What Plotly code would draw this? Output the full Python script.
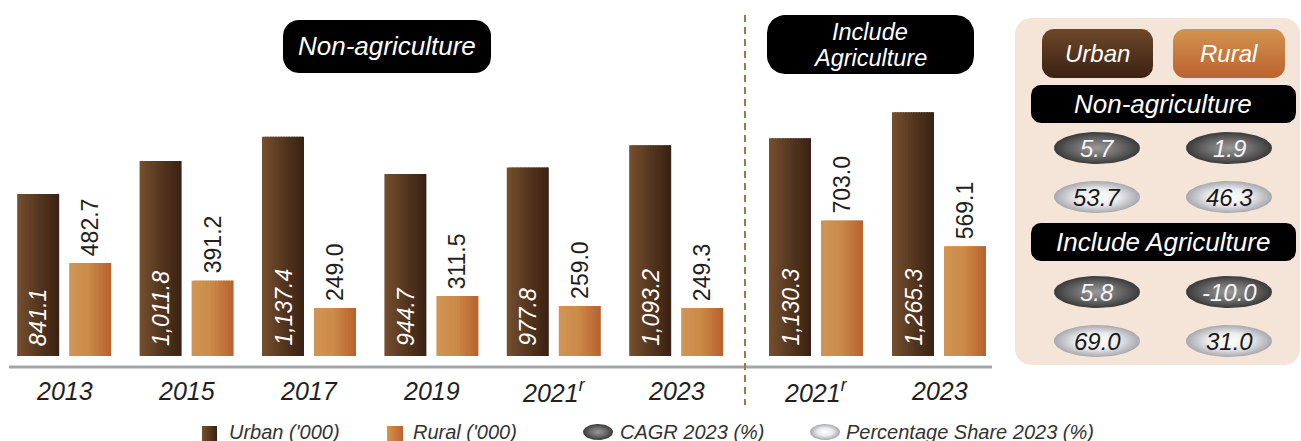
import math
import plotly.graph_objects as go

# ---------------- data ----------------
years_nonag = ["2013", "2015", "2017", "2019", "2021", "2023"]
year_labels_nonag = ["2013", "2015", "2017", "2019", "2021<sup>r</sup>", "2023"]
urban_nonag = [841.1, 1011.8, 1137.4, 944.7, 977.8, 1093.2]
rural_nonag = [482.7, 391.2, 249.0, 311.5, 259.0, 249.3]

years_agri = ["2021", "2023"]
year_labels_agri = ["2021<sup>r</sup>", "2023"]
urban_agri = [1130.3, 1265.3]
rural_agri = [703.0, 569.1]

panel_groups = ["Non-agriculture", "Include Agriculture"]
cagr_urban = [5.7, 5.8]
cagr_rural = [1.9, -10.0]
share_urban = [53.7, 69.0]
share_rural = [46.3, 31.0]

series_names = ["Urban", "Rural"]
legend_labels = ["Urban ('000)", "Rural ('000)", "CAGR 2023 (%)", "Percentage Share 2023 (%)"]
section_titles = ["Non-agriculture", "Include", "Agriculture"]

# ---------------- style ----------------
FONT = "Liberation Sans, Arial, sans-serif"
W, H = 1301, 441
BASE_Y = 356          # pixel row of value 0
PX_PER_UNIT = 0.1927  # pixels per '000
BAR_W = 42
TXT = "#231f20"

URBAN_STOPS = [(0, (118, 80, 46)), (0.55, (82, 53, 31)), (1, (58, 33, 19))]
RURAL_STOPS = [(0, (209, 149, 85)), (0.45, (203, 139, 73)), (1, (184, 97, 45))]


def interp(stops, t):
    for (t0, c0), (t1, c1) in zip(stops[:-1], stops[1:]):
        if t0 <= t <= t1:
            f = (t - t0) / (t1 - t0) if t1 > t0 else 0
            return "rgb(%d,%d,%d)" % tuple(round(a + (b - a) * f) for a, b in zip(c0, c1))
    c = stops[-1][1]
    return "rgb(%d,%d,%d)" % c


fig = go.Figure()


def add_bars(n, vals, xa, pitch, left_px, stops, K=16):
    pos = list(range(n))
    dw = BAR_W / K
    for k in range(K):
        x0 = left_px + k * dw
        w = dw * 1.7 if k < K - 1 else dw
        fig.add_trace(go.Bar(
            x=pos, y=vals, xaxis=xa, yaxis="y",
            offset=x0 / pitch, width=w / pitch,
            marker=dict(color=interp(stops, (k + 0.5) / K), line=dict(width=0)),
            hoverinfo="skip", showlegend=False))


PITCH_L, PITCH_R = 122.4, 123.0
add_bars(len(years_nonag), urban_nonag, "x", PITCH_L, -47, URBAN_STOPS)
add_bars(len(years_nonag), rural_nonag, "x", PITCH_L, 5, RURAL_STOPS)
add_bars(len(years_agri), urban_agri, "x2", PITCH_R, -47, URBAN_STOPS)
add_bars(len(years_agri), rural_agri, "x2", PITCH_R, 5, RURAL_STOPS)


# ---------------- decoration helpers (pixel axis x3/y3) ----------------
def rrect_pts(x0, y0, x1, y1, r, n=10):
    xs, ys = [], []
    corners = [(x1 - r, y0 + r, -90, 0), (x1 - r, y1 - r, 0, 90),
               (x0 + r, y1 - r, 90, 180), (x0 + r, y0 + r, 180, 270)]
    for cx, cy, a0, a1 in corners:
        for i in range(n + 1):
            a = math.radians(a0 + (a1 - a0) * i / n)
            xs.append(cx + r * math.cos(a))
            ys.append(cy + r * math.sin(a))
    xs.append(xs[0]); ys.append(ys[0])
    return xs, ys


def ellipse_pts(cx, cy, rx, ry, n=72):
    xs = [cx + rx * math.cos(2 * math.pi * i / n) for i in range(n + 1)]
    ys = [cy + ry * math.sin(2 * math.pi * i / n) for i in range(n + 1)]
    return xs, ys


def poly(xs, ys, fillcolor=None, gradient=None):
    kw = dict(x=xs, y=ys, xaxis="x3", yaxis="y3", mode="lines", fill="toself",
              line=dict(width=0, color="rgba(0,0,0,0)"), hoverinfo="skip", showlegend=False)
    if gradient is not None:
        kw["fillgradient"] = gradient
    else:
        kw["fillcolor"] = fillcolor
    fig.add_trace(go.Scatter(**kw))


DARK_ELL = dict(type="radial", colorscale=[[0, "#9a9a9a"], [0.55, "#6a6a6a"], [1, "#3a3a3a"]])
LIGHT_ELL = dict(type="radial", colorscale=[[0, "#ffffff"], [0.5, "#ececef"], [1, "#a6a8ad"]])

annotations = []


def txt(x, y, text, size, color, xanchor="center", yanchor="middle", italic=True, **kw):
    annotations.append(dict(
        x=x, y=y, xref="x3", yref="y3", text=("<i>%s</i>" % text) if italic else text,
        showarrow=False, xanchor=xanchor, yanchor=yanchor, borderpad=0,
        font=dict(family=FONT, size=size, color=color), **kw))


# top section boxes
poly(*rrect_pts(283, 20, 491, 73, 16), fillcolor="#000000")
txt(387, 46, section_titles[0], 26, "white")
poly(*rrect_pts(767, 15, 974, 74, 18), fillcolor="#000000")
txt(870, 32, section_titles[1], 23.5, "white")
txt(870, 58, section_titles[2], 23.5, "white")

# right summary panel
poly(*rrect_pts(1015, 18, 1300, 365, 16), fillcolor="#f5e5d8")
poly(*rrect_pts(1042, 29, 1153, 78, 12),
     gradient=dict(type="vertical", start=29, stop=78,
                   colorscale=[[0, "#6e4829"], [1, "#3a2113"]]))
poly(*rrect_pts(1173, 29, 1285, 78, 12),
     gradient=dict(type="vertical", start=29, stop=78,
                   colorscale=[[0, "#d3944f"], [1, "#bb622e"]]))
txt(1097, 53, series_names[0], 24, "white")
txt(1229, 53, series_names[1], 24, "white")

header_y = [104, 242]
row_y = [(148, 197), (292, 341)]
for g in range(2):
    poly(*rrect_pts(1031, header_y[g] - 19, 1296, header_y[g] + 19, 10), fillcolor="#000000")
    txt(1163, header_y[g], panel_groups[g], 26, "white")
    cy1, cy2 = row_y[g]
    for cx, val in ((1097, cagr_urban[g]), (1229, cagr_rural[g])):
        poly(*ellipse_pts(cx, cy1, 43, 16), gradient=DARK_ELL)
        txt(cx, cy1, "%.1f" % val, 24, "#f4f4f4")
    for cx, val in ((1097, share_urban[g]), (1229, share_rural[g])):
        poly(*ellipse_pts(cx, cy2, 43, 16), gradient=LIGHT_ELL)
        txt(cx, cy2, "%.1f" % val, 24, "#1a1a1a")

# bottom legend
poly(*rrect_pts(202, 426, 217, 446, 0.01, n=1),
     gradient=dict(type="horizontal", start=202, stop=217, colorscale=[[0, "#76512f"], [1, "#3a2113"]]))
poly(*rrect_pts(387, 426, 403, 446, 0.01, n=1),
     gradient=dict(type="horizontal", start=387, stop=403, colorscale=[[0, "#d3944f"], [1, "#bb622e"]]))
poly(*ellipse_pts(598, 432, 15, 8), gradient=DARK_ELL)
poly(*ellipse_pts(825, 432, 15, 8), gradient=LIGHT_ELL)
for xpos, lab in zip([228, 412, 619, 845], legend_labels):
    txt(xpos, 432, lab, 20, "#333333", xanchor="left")


# ---------------- value labels & year labels ----------------
def value_labels(urban, rural, xa):
    for i, (u, r) in enumerate(zip(urban, rural)):
        annotations.append(dict(x=i, y=0, xref=xa, yref="y", text="<i>%s</i>" % f"{u:,.1f}",
                                textangle=-90, showarrow=False, xanchor="center", yanchor="bottom",
                                xshift=-26, yshift=9, borderpad=0,
                                font=dict(family=FONT, size=23, color="white")))
        annotations.append(dict(x=i, y=r, xref=xa, yref="y", text=f"{r:,.1f}",
                                textangle=-90, showarrow=False, xanchor="center", yanchor="bottom",
                                xshift=26, yshift=6, borderpad=0,
                                font=dict(family=FONT, size=23, color=TXT)))


value_labels(urban_nonag, rural_nonag, "x")
value_labels(urban_agri, rural_agri, "x2")

for xa, labs in (("x", year_labels_nonag), ("x2", year_labels_agri)):
    for i, lab in enumerate(labs):
        annotations.append(dict(x=i, y=1 - 391 / H, xref=xa, yref="paper", text="<i>%s</i>" % lab,
                                showarrow=False, xanchor="center", yanchor="middle", borderpad=0,
                                font=dict(family=FONT, size=25, color=TXT)))

shapes = [
    dict(type="line", xref="x3", yref="y3", x0=9, x1=992, y0=367, y1=367,
         line=dict(color="#a3a5a8", width=3)),
    dict(type="line", xref="x3", yref="y3", x0=745, x1=745, y0=15, y1=405,
         line=dict(color="#a7744f", width=2, dash="7px,5px")),
]

ymax = BASE_Y / PX_PER_UNIT
fig.update_layout(
    width=W, height=H,
    margin=dict(l=0, r=0, t=0, b=0, pad=0),
    paper_bgcolor="white", plot_bgcolor="rgba(0,0,0,0)",
    barmode="overlay", showlegend=False,
    font=dict(family=FONT),
    xaxis=dict(domain=[3 / W, (3 + 6 * PITCH_L) / W], range=[-0.5, 5.5], type="linear",
               anchor="y", visible=False, fixedrange=True),
    xaxis2=dict(domain=[754.5 / W, (754.5 + 2 * PITCH_R) / W], range=[-0.5, 1.5], type="linear",
                anchor="y", visible=False, fixedrange=True),
    yaxis=dict(domain=[(H - BASE_Y) / H, 1], range=[0, ymax], anchor="x",
               visible=False, fixedrange=True),
    xaxis3=dict(domain=[0, 1], range=[0, W], anchor="y3", visible=False, fixedrange=True),
    yaxis3=dict(domain=[0, 1], range=[H, 0], anchor="x3", visible=False, fixedrange=True),
    annotations=annotations,
    shapes=shapes,
)

fig.write_html("out.html",
               config={"displayModeBar": False, "staticPlot": True},
               post_script="document.body.style.margin='0';document.body.style.padding='0';"
                           "document.body.style.overflow='hidden';")
